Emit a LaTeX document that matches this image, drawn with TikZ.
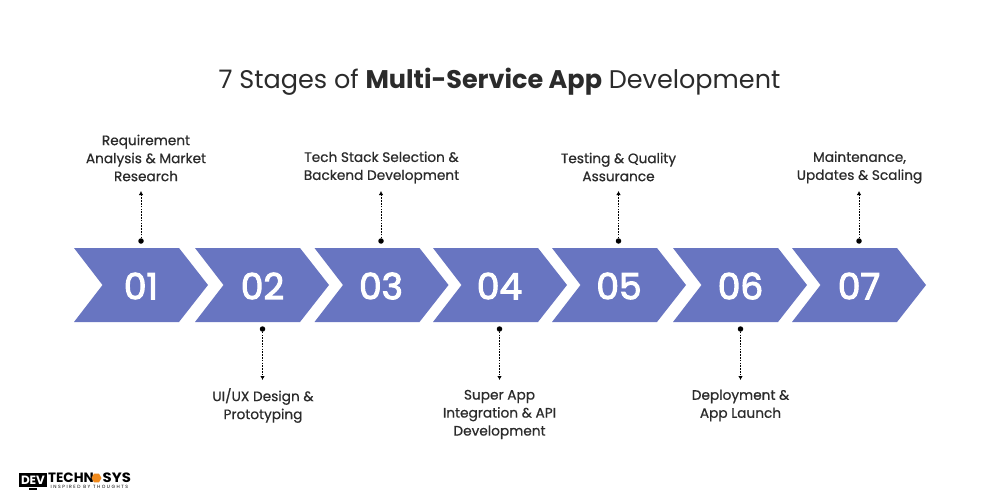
\documentclass[tikz,border=0pt]{standalone}
\usepackage{fontspec}
\setmainfont{Poppins}
\newfontfamily\labfont[FakeBold=0.6]{Poppins}
\newfontfamily\numfont[FakeBold=3]{Poppins}
\newfontfamily\tagfont[LetterSpace=33]{Poppins}
\usetikzlibrary{arrows.meta,shapes.geometric}
\definecolor{chev}{HTML}{6875C1}
\definecolor{ink}{HTML}{2B2B2B}
\definecolor{logoor}{HTML}{F08A1D}
\tikzset{
  chevron/.style={fill=chev,draw=none},
  num/.style={text=white,font=\numfont\fontsize{36}{36}\selectfont,inner sep=0pt,anchor=center},
  lab/.style={text=ink,font=\labfont\fontsize{13.7}{18}\selectfont,align=center,inner sep=0pt},
  dotnode/.style={circle,fill=black,inner sep=0pt,minimum size=5.5pt},
  link/.style={black,line width=0.9pt,dash pattern=on 1.6pt off 1.2pt,-{Latex[length=4pt,width=4.5pt]}},
}
\newcommand{\chevshape}[2]{% left x, name
  \fill[chevron] (#1,248) -- (#1+105,248) -- (#1+134,285) -- (#1+105,322) -- (#1,322) -- (#1+28.5,285) -- cycle;
}
\begin{document}
\begin{tikzpicture}[x=1pt,y=-1pt]
\useasboundingbox (0,0) rectangle (1000,500);
\fill[white] (0,0) rectangle (1000,500);
\node[text=ink,font=\fontsize{25.5}{26}\selectfont,inner sep=0pt] (title) at (499.5,81.5) {7 Stages of \textbf{Multi-Service App} Development};
\chevshape{74}{a}\chevshape{195}{b}\chevshape{314.5}{c}\chevshape{433}{d}\chevshape{552}{e}\chevshape{673}{f}\chevshape{792}{g}
\node[num] (n1) at (141,286) {01};
\node[num] (n2) at (262.5,286) {02};
\node[num] (n3) at (381,286) {03};
\node[num] (n4) at (499.5,286) {04};
\node[num] (n5) at (619,286) {05};
\node[num] (n6) at (740.5,286) {06};
\node[num] (n7) at (859,286) {07};
\node[lab] (l1) at (146,158) {Requirement\\Analysis \& Market\\Research};
\node[lab] (l2) at (263,405.5) {UI/UX Design \&\\Prototyping};
\node[lab] (l3) at (381.5,167.5) {Tech Stack Selection \&\\Backend Development};
\node[lab] (l4) at (499.5,414.5) {Super App\\Integration \& API\\Development};
\node[lab] (l5) at (618.5,167) {Testing \& Quality\\Assurance};
\node[lab] (l6) at (740.5,405.5) {Deployment \&\\App Launch};
\node[lab] (l7) at (859.5,167.5) {Maintenance,\\Updates \& Scaling};
\foreach \i/\x/\yd/\yt in {1/141/241/191,2/262.5/329/380,3/381/241/191,4/499.5/329/380,5/618.5/241/191,6/740.5/329/380,7/859/241/191}{
  \node[dotnode] (d\i) at (\x,\yd) {};
  \coordinate (t\i) at (\x,\yt);
  \draw[link] (d\i.center) -- (t\i);
}
% logo
\fill[black] (19,473) rectangle (47,487);
\fill[black] (29,488) rectangle (37,490);
\node[text=white,font=\fontsize{12}{12}\selectfont\bfseries,inner sep=0pt] (ldev) at (33,480.5) {DEV};
\node[text=black,font=\fontsize{13.5}{13.5}\selectfont\bfseries,inner sep=0pt,anchor=west] (ltech) at (48,478) {TECHN};
\node[regular polygon,regular polygon sides=6,fill=logoor,minimum size=10pt,inner sep=0pt] (lo) at (96.5,478) {};
\node[text=black,font=\fontsize{13.5}{13.5}\selectfont\bfseries,inner sep=0pt,anchor=west,transform shape,xscale=1.1] (lsys) at (102.5,478) {SYS};
\node[text=black,font=\tagfont\fontsize{4.6}{4.6}\selectfont,inner sep=0pt,anchor=west] (ltag) at (50.5,487) {INSPIRED BY THOUGHTS};
\end{tikzpicture}
\end{document}
